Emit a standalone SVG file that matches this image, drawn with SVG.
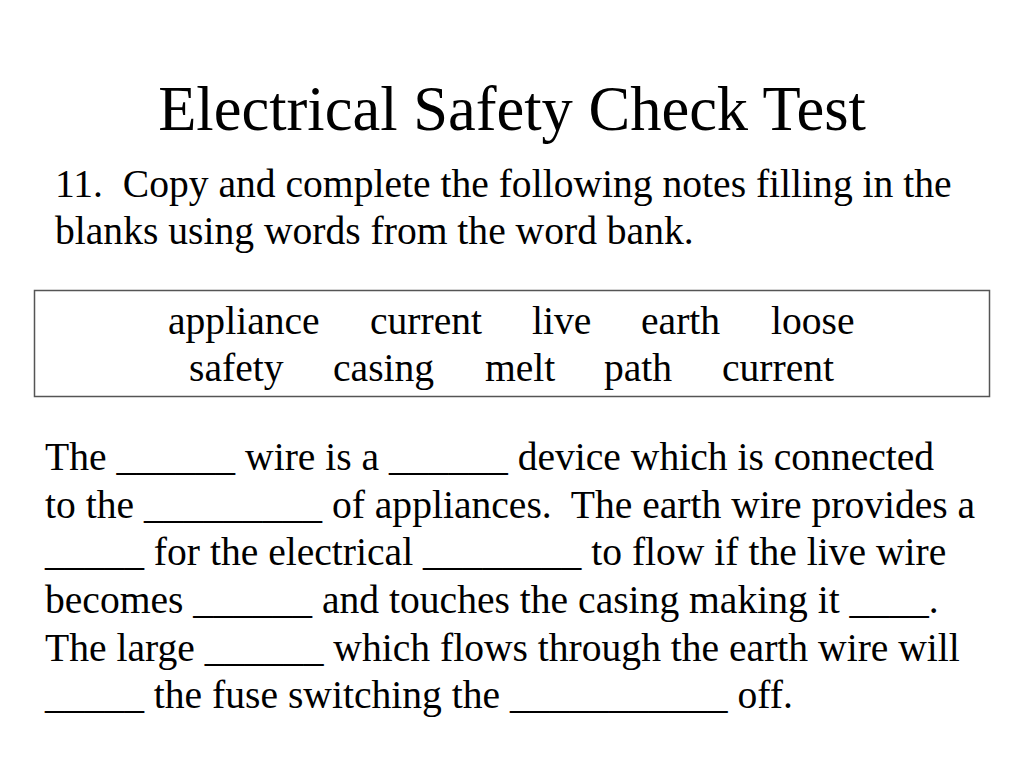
<svg xmlns="http://www.w3.org/2000/svg" width="1024" height="768" viewBox="0 0 1024 768">
<style>
text{font-family:"Liberation Serif","Times New Roman",serif;fill:#000}
.b{font-size:39.6px}
.t{font-size:62.5px}
</style>
<rect width="1024" height="768" fill="#fff"/>
<g id="title"><text class="t" x="512" y="130" text-anchor="middle">Electrical Safety Check Test</text></g>
<g id="question">
<text class="b" x="55" y="197" xml:space="preserve">11.  Copy and complete the following notes filling in the</text>
<text class="b" x="55" y="244">blanks using words from the word bank.</text>
</g>
<g id="wordbank">
<rect x="34.5" y="290.5" width="955" height="106" fill="none" stroke="#555" stroke-width="1.5"/>
<text class="b" x="168" y="334">appliance</text>
<text class="b" x="370" y="334">current</text>
<text class="b" x="532" y="334">live</text>
<text class="b" x="641" y="334">earth</text>
<text class="b" x="771" y="334">loose</text>
<text class="b" x="189" y="381">safety</text>
<text class="b" x="333" y="381">casing</text>
<text class="b" x="485" y="381">melt</text>
<text class="b" x="604" y="381">path</text>
<text class="b" x="722" y="381">current</text>
</g>
<g id="paragraph">
<text class="b" x="45" y="470">The ______ wire is a ______ device which is connected</text>
<text class="b" x="45" y="518" xml:space="preserve">to the _________ of appliances.  The earth wire provides a</text>
<text class="b" x="45" y="565">_____ for the electrical ________ to flow if the live wire</text>
<text class="b" x="45" y="613">becomes ______ and touches the casing making it ____.</text>
<text class="b" x="45" y="661">The large ______ which flows through the earth wire will</text>
<text class="b" x="45" y="708">_____ the fuse switching the ___________ off.</text>
</g>
</svg>
